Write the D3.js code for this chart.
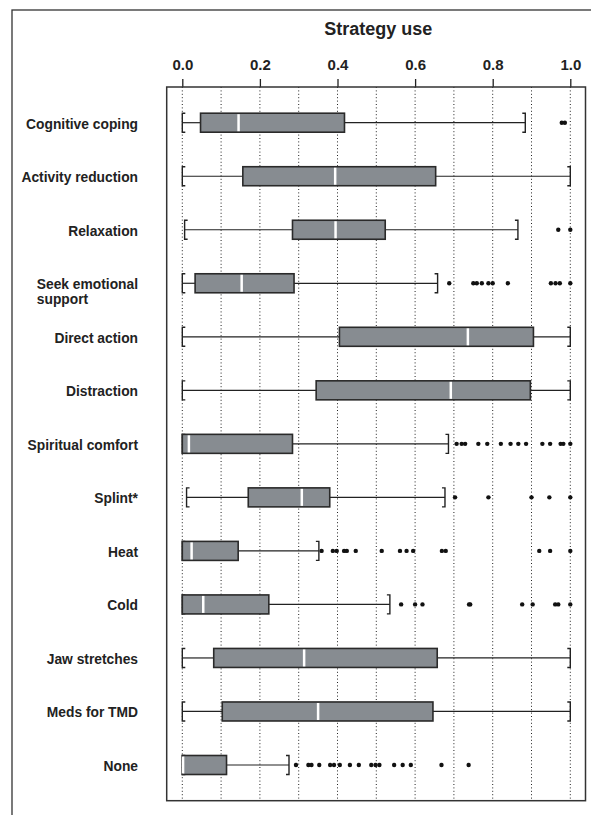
<!DOCTYPE html>
<html lang="en">
<head>
    <meta charset="UTF-8">
    <title>Strategy use</title>
    <script src="https://d3js.org/d3.v7.min.js"></script>
    <style>
        body { margin: 0; background: #fff; }
        svg { display: block; font-family: "Liberation Sans", Arial, Helvetica, sans-serif; }
        .row-label { font-size: 13.8px; font-weight: bold; fill: #222; }
        .axis text { font-size: 15px; font-weight: bold; fill: #222; }
        .axis line { stroke: #222; stroke-width: 1.3; }
        .axis path { display: none; }
    </style>
</head>
<body>
    <svg width="591" height="815"></svg>
    <script>
        // 資料：每個策略的箱形圖統計量
        const categories = ["Cognitive coping", "Activity reduction", "Relaxation", "Seek emotional support",
            "Direct action", "Distraction", "Spiritual comfort", "Splint*", "Heat", "Cold",
            "Jaw stretches", "Meds for TMD", "None"];
        const whiskerLow  = [0.000, 0.000, 0.006, 0.000, 0.000, 0.000, 0.000, 0.011, 0.000, 0.000, 0.000, 0.000, 0.000];
        const q1          = [0.047, 0.156, 0.284, 0.033, 0.405, 0.345, 0.000, 0.170, 0.000, 0.000, 0.081, 0.103, 0.000];
        const medians     = [0.145, 0.394, 0.395, 0.153, 0.736, 0.692, 0.017, 0.308, 0.024, 0.054, 0.314, 0.350, 0.002];
        const q3          = [0.418, 0.653, 0.523, 0.288, 0.905, 0.897, 0.284, 0.380, 0.144, 0.223, 0.657, 0.646, 0.114];
        const whiskerHigh = [0.884, 1.000, 0.865, 0.658, 1.000, 1.000, 0.686, 0.677, 0.352, 0.535, 1.000, 1.000, 0.275];
        const outliers = [
            [0.978, 0.986],
            [],
            [0.969, 1.000],
            [0.688, 0.750, 0.759, 0.772, 0.789, 0.800, 0.839, 0.950, 0.962, 0.973, 1.000],
            [],
            [],
            [0.707, 0.720, 0.729, 0.763, 0.786, 0.821, 0.846, 0.866, 0.886, 0.928, 0.948, 0.975, 0.982, 1.000],
            [0.703, 0.789, 0.900, 0.946, 1.000],
            [0.359, 0.388, 0.398, 0.417, 0.424, 0.447, 0.514, 0.561, 0.578, 0.595, 0.669, 0.679, 0.920, 0.948, 1.000],
            [0.564, 0.600, 0.619, 0.739, 0.742, 0.876, 0.903, 0.961, 0.969, 1.000],
            [],
            [],
            [0.293, 0.325, 0.333, 0.353, 0.381, 0.391, 0.406, 0.432, 0.455, 0.487, 0.498, 0.508, 0.546, 0.568, 0.589, 0.668, 0.738]
        ];
        const tickValues = [0, 0.2, 0.4, 0.6, 0.8, 1.0];
        const gridValues = [0, 0.1, 0.2, 0.3, 0.4, 0.5, 0.6, 0.7, 0.8, 0.9, 1.0];

        const svg = d3.select("svg");

        // 外框（只看得到上、左兩邊）
        svg.append("rect")
            .attr("x", 12).attr("y", 10)
            .attr("width", 700).attr("height", 900)
            .attr("fill", "none")
            .attr("stroke", "#333")
            .attr("stroke-width", 1.3);

        const panel = {left: 166.7, top: 87, right: 585.5, bottom: 800.7};

        const x = d3.scaleLinear()
            .domain([0, 1])
            .range([182.3, 570.3]);

        const y = d3.scalePoint()
            .domain(categories)
            .range([panel.top, panel.bottom])
            .padding(0.667);

        const boxH = 19;

        // 標題
        svg.append("text")
            .attr("x", (x(0) + x(1)) / 2 + 2)
            .attr("y", 35)
            .attr("text-anchor", "middle")
            .style("font-size", "18px")
            .style("font-weight", "bold")
            .style("fill", "#222")
            .text("Strategy use");

        // 虛線格線
        svg.append("g")
            .selectAll("line")
            .data(gridValues)
            .enter().append("line")
            .attr("x1", d => x(d)).attr("x2", d => x(d))
            .attr("y1", panel.top).attr("y2", panel.bottom)
            .attr("stroke", "#222")
            .attr("stroke-width", 1)
            .attr("stroke-dasharray", "1,2.4");

        // 上方座標軸
        svg.append("g")
            .attr("class", "axis")
            .attr("transform", "translate(0," + panel.top + ")")
            .call(d3.axisTop(x).tickValues(tickValues).tickSize(8).tickPadding(9).tickFormat(d3.format(".1f")));

        // 繪圖區框
        svg.append("rect")
            .attr("x", panel.left).attr("y", panel.top)
            .attr("width", panel.right - panel.left)
            .attr("height", panel.bottom - panel.top)
            .attr("fill", "none")
            .attr("stroke", "#333")
            .attr("stroke-width", 1.5);

        const rows = categories.map((c, i) => ({
            cat: c, lo: whiskerLow[i], q1: q1[i], med: medians[i], q3: q3[i], hi: whiskerHigh[i], out: outliers[i]
        }));

        const g = svg.append("g")
            .selectAll("g")
            .data(rows)
            .enter().append("g")
            .attr("transform", d => "translate(0," + y(d.cat) + ")");

        // 鬚線
        g.append("line")
            .attr("x1", d => x(d.lo)).attr("x2", d => x(d.q1))
            .attr("stroke", "#222").attr("stroke-width", 1.2);
        g.append("line")
            .attr("x1", d => x(d.q3)).attr("x2", d => x(d.hi))
            .attr("stroke", "#222").attr("stroke-width", 1.2);

        // 鬚線兩端的括號
        g.append("path")
            .attr("d", d => "M" + (x(d.lo) + 3) + "," + (-boxH / 2) + "H" + x(d.lo) + "V" + (boxH / 2) + "H" + (x(d.lo) + 3))
            .attr("fill", "none").attr("stroke", "#222").attr("stroke-width", 1.4);
        g.append("path")
            .attr("d", d => "M" + (x(d.hi) - 3) + "," + (-boxH / 2) + "H" + x(d.hi) + "V" + (boxH / 2) + "H" + (x(d.hi) - 3))
            .attr("fill", "none").attr("stroke", "#222").attr("stroke-width", 1.4);

        // 箱子
        g.append("rect")
            .attr("x", d => x(d.q1))
            .attr("y", -boxH / 2)
            .attr("width", d => x(d.q3) - x(d.q1))
            .attr("height", boxH)
            .attr("fill", "#878c91")
            .attr("stroke", "#2a2a2a")
            .attr("stroke-width", 1.6);

        // 中位數（白線）
        g.append("line")
            .attr("x1", d => x(d.med)).attr("x2", d => x(d.med))
            .attr("y1", -boxH / 2 + 1).attr("y2", boxH / 2 - 1)
            .attr("stroke", "#fff").attr("stroke-width", 2.5);

        // 離群值
        g.selectAll("circle")
            .data(d => d.out)
            .enter().append("circle")
            .attr("cx", d => x(d))
            .attr("cy", 0)
            .attr("r", 2.2)
            .attr("fill", "#111");

        // 左側標籤
        const labelX = 138;
        rows.forEach(d => {
            if (d.cat === "Seek emotional support") {
                const t1 = svg.append("text")
                    .attr("class", "row-label")
                    .attr("x", labelX).attr("y", y(d.cat) + 6)
                    .attr("text-anchor", "end")
                    .text("Seek emotional");
                const bb = t1.node().getBBox();
                svg.append("text")
                    .attr("class", "row-label")
                    .attr("x", bb.x).attr("y", y(d.cat) + 21)
                    .text("support");
            } else {
                svg.append("text")
                    .attr("class", "row-label")
                    .attr("x", labelX).attr("y", y(d.cat) + 6)
                    .attr("text-anchor", "end")
                    .text(d.cat);
            }
        });
    </script>
</body>
</html>
